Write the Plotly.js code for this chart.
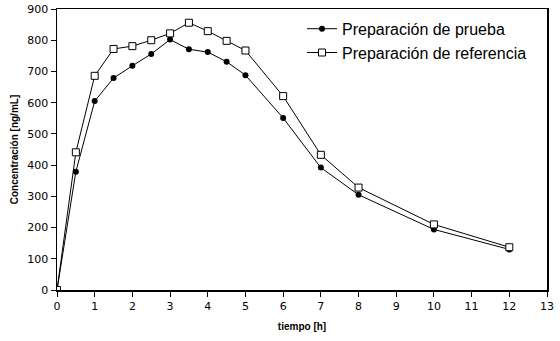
<!DOCTYPE html>
<html><head><meta charset="utf-8">
<script src="https://cdn.plot.ly/plotly-3.0.1.min.js"></script>
<style>body{margin:0;background:#fff}#c{width:560px;height:341px}</style>
</head><body><div id="c"></div>
<script>
const tiempo = [0, 0.5, 1, 1.5, 2, 2.5, 3, 3.5, 4, 4.5, 5, 6, 7, 8, 10, 12];
const prueba = [0, 379, 605, 679, 718, 756, 802, 771, 762, 731, 688, 551, 392, 305, 194, 130];
const referencia = [0, 441, 686, 772, 781, 800, 822, 856, 829, 798, 767, 621, 433, 328, 210, 137];
const xTicks = [0,1,2,3,4,5,6,7,8,9,10,11,12,13];
const yTicks = [0,100,200,300,400,500,600,700,800,900];

const traces = [
  {x: tiempo, y: prueba, name: 'Preparación de prueba', mode: 'lines+markers',
   line: {color: '#000', width: 1}, marker: {symbol: 'circle', size: 6, color: '#000'}},
  {x: tiempo, y: referencia, name: 'Preparación de referencia', mode: 'lines+markers',
   line: {color: '#000', width: 1}, marker: {symbol: 'square', size: 7, color: '#fff', line: {color: '#000', width: 1}}}
];
const layout = {
  width: 560, height: 341,
  margin: {l: 57, r: 13, t: 9, b: 51},
  paper_bgcolor: '#fff', plot_bgcolor: '#fff',
  font: {family: 'DejaVu Sans, Verdana, sans-serif', color: '#000', size: 11},
  showlegend: true,
  legend: {x: 0.5, y: 0.99, xanchor: 'left', yanchor: 'top', bgcolor: 'rgba(0,0,0,0)',
    font: {family: 'Liberation Sans, Arial, sans-serif', size: 16}, tracegroupgap: 0, itemwidth: 30},
  xaxis: {range: [0, 13], tickvals: xTicks, ticktext: xTicks.map(String), ticks: 'outside', ticklen: 5,
    tickcolor: '#000', showline: true, linecolor: '#000', linewidth: 1.5, mirror: true, showgrid: false, zeroline: false,
    title: {text: 'tiempo [h]', font: {family: 'Liberation Sans, Arial, sans-serif', size: 10, weight: 'bold'}, standoff: 11}},
  yaxis: {range: [0, 900], tickvals: yTicks, ticktext: yTicks.map(String), ticks: 'outside', ticklen: 5,
    tickcolor: '#000', showline: true, linecolor: '#000', linewidth: 1.5, mirror: true, showgrid: false, zeroline: false,
    title: {text: 'Concentración [ng/mL]', font: {family: 'Liberation Sans, Arial, sans-serif', size: 10, weight: 'bold'}, standoff: 7}}
};
Plotly.newPlot('c', traces, layout, {displayModeBar: false, staticPlot: true});
</script></body></html>
